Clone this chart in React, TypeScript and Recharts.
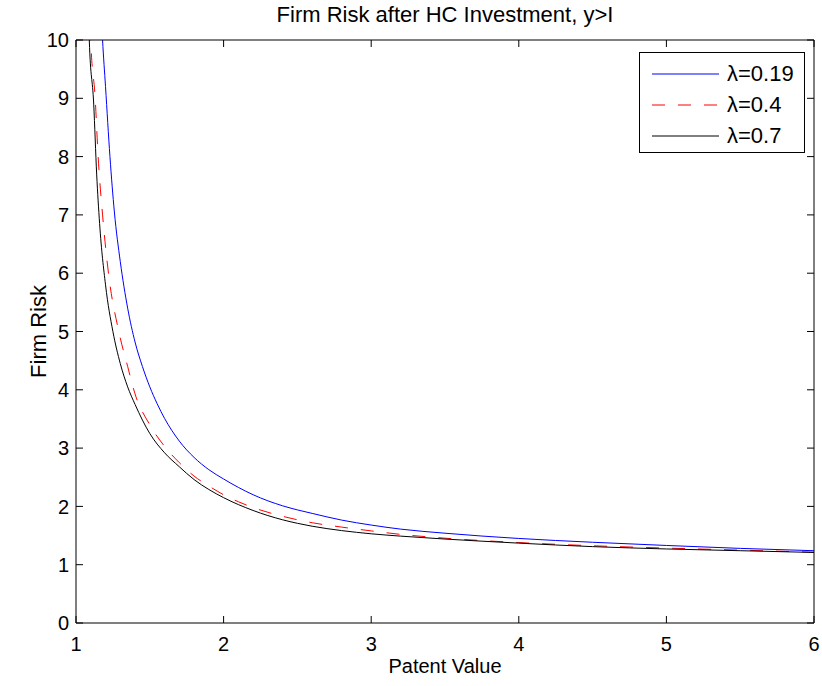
import {
  LineChart,
  Line,
  XAxis,
  YAxis,
  Legend,
} from "recharts";

// patent value (x) and firm risk (y)
const blueX = [1.15, 1.18, 1.2, 1.23, 1.26, 1.3, 1.35, 1.4, 1.45, 1.5, 1.55, 1.6, 1.7, 1.8, 1.9, 2.0, 2.2, 2.4, 2.5, 2.6, 2.8, 3.0, 3.2, 3.5, 4.0, 4.5, 5.0, 5.5, 6.0];
const blueY = [11.8, 10, 9.2, 8.0, 7.05, 6.2, 5.4, 4.82, 4.4, 4.05, 3.76, 3.51, 3.12, 2.84, 2.63, 2.47, 2.2, 2.01, 1.94, 1.88, 1.765, 1.68, 1.61, 1.54, 1.45, 1.385, 1.33, 1.28, 1.24];

const redX = [1.08, 1.1, 1.13, 1.15, 1.18, 1.22, 1.29, 1.35, 1.4, 1.5, 1.6, 1.7, 1.8, 1.9, 2.0, 2.1, 2.2, 2.4, 2.6, 2.8, 3.0, 3.2, 3.5, 4.0, 4.5, 5.0, 5.5, 6.0];
const redY = [12, 10, 9, 8, 7, 6, 5, 4.4, 3.93, 3.4, 3.03, 2.75, 2.52, 2.35, 2.2, 2.08, 1.98, 1.83, 1.72, 1.645, 1.58, 1.52, 1.455, 1.38, 1.325, 1.285, 1.25, 1.215];

const blackX = [1.07, 1.09, 1.12, 1.14, 1.16, 1.2, 1.25, 1.3, 1.35, 1.4, 1.5, 1.6, 1.7, 1.8, 1.9, 2.0, 2.2, 2.4, 2.5, 2.6, 2.8, 3.0, 3.2, 3.5, 4.0, 4.5, 5.0, 5.5, 6.0];
const blackY = [12, 10, 8.9, 7.7, 6.85, 5.8, 5.0, 4.45, 4.05, 3.75, 3.25, 2.92, 2.68, 2.46, 2.29, 2.15, 1.93, 1.77, 1.71, 1.66, 1.585, 1.53, 1.49, 1.44, 1.37, 1.31, 1.27, 1.24, 1.21];

const xTicks = [1, 2, 3, 4, 5, 6];
const yTicks = [0, 1, 2, 3, 4, 5, 6, 7, 8, 9, 10];

const toPoints = (xs: number[], ys: number[]) =>
  xs.map((x, i) => ({ x, y: ys[i] }));

const series = [
  { name: "λ=0.19", color: "#0000ff", dash: undefined, data: toPoints(blueX, blueY) },
  { name: "λ=0.4", color: "#ff0000", dash: "13 13", data: toPoints(redX, redY) },
  { name: "λ=0.7", color: "#000000", dash: undefined, data: toPoints(blackX, blackY) },
];

const FONT = '"Liberation Sans", Arial, Helvetica, sans-serif';
const tickStyle = { fill: "#000", fontSize: 20, fontFamily: FONT };

// tick labels are drawn by the main axes; the mirrored ones only draw inward tick marks
const NoLabel = () => <g />;

function LegendBox() {
  return (
    <div
      style={{
        boxSizing: "border-box",
        border: "1px solid #000",
        background: "#fff",
        padding: "5px 0 0 12px",
        fontFamily: FONT,
        fontSize: 22,
        width: 166,
        height: 101,
      }}
    >
      {series.map((s) => (
        <div
          key={s.name}
          style={{ display: "flex", alignItems: "center", height: 31 }}
        >
          <svg width={67} height={10} style={{ marginRight: 8 }}>
            <line
              x1={0}
              y1={5}
              x2={67}
              y2={5}
              stroke={s.color}
              strokeWidth={1}
              strokeDasharray={s.dash}
            />
          </svg>
          <span>{s.name}</span>
        </div>
      ))}
    </div>
  );
}

function YLabel(props: any) {
  const vb = props.viewBox;
  const cx = vb.x + 2;
  const cy = vb.y + vb.height / 2;
  return (
    <text
      x={cx}
      y={cy}
      transform={`rotate(-90 ${cx} ${cy})`}
      textAnchor="middle"
      dominantBaseline="central"
      fontSize={22}
      fontFamily={FONT}
      fill="#000"
    >
      Firm Risk
    </text>
  );
}

const innerTickAxis = {
  type: "number" as const,
  mirror: true,
  allowDataOverflow: true,
  tick: NoLabel,
  tickSize: 7,
  tickLine: { stroke: "#000" },
};

export default function App() {
  return (
    <div
      style={{
        position: "absolute",
        left: 0,
        top: 0,
        width: 822,
        height: 686,
        background: "#fff",
      }}
    >
      <div
        style={{
          position: "absolute",
          left: 76,
          width: 738,
          top: 2,
          textAlign: "center",
          fontFamily: FONT,
          fontSize: 22,
        }}
      >
        Firm Risk after HC Investment, y&gt;I
      </div>

      <LineChart
        width={822}
        height={686}
        margin={{ top: 40, right: 8, bottom: 13, left: 36 }}
      >
        <XAxis
          dataKey="x"
          type="number"
          domain={[1, 6]}
          ticks={xTicks}
          allowDataOverflow
          tickLine={false}
          tickSize={0}
          tickMargin={14}
          height={50}
          axisLine={{ stroke: "#000" }}
          tick={tickStyle}
          label={{
            value: "Patent Value",
            position: "insideBottom",
            offset: 0,
            fill: "#000",
            fontSize: 20,
            fontFamily: FONT,
          }}
        />
        <XAxis
          {...innerTickAxis}
          xAxisId="bottomTicks"
          dataKey="x"
          orientation="bottom"
          domain={[1, 6]}
          ticks={xTicks}
          axisLine={false}
        />
        <XAxis
          {...innerTickAxis}
          xAxisId="top"
          dataKey="x"
          orientation="top"
          domain={[1, 6]}
          ticks={xTicks}
          axisLine={{ stroke: "#000" }}
        />
        <YAxis
          type="number"
          domain={[0, 10]}
          ticks={yTicks}
          allowDataOverflow
          width={40}
          tickLine={false}
          tickSize={0}
          tickMargin={7}
          axisLine={{ stroke: "#000" }}
          tick={tickStyle}
          label={YLabel}
        />
        <YAxis
          {...innerTickAxis}
          yAxisId="leftTicks"
          orientation="left"
          domain={[0, 10]}
          ticks={yTicks}
          axisLine={false}
        />
        <YAxis
          {...innerTickAxis}
          yAxisId="right"
          orientation="right"
          domain={[0, 10]}
          ticks={yTicks}
          axisLine={{ stroke: "#000" }}
        />

        <Legend
          layout="vertical"
          align="center"
          verticalAlign="middle"
          wrapperStyle={{ left: 639, top: 52, width: 166 }}
          content={() => <LegendBox />}
        />

        {series.map((s) => (
          <Line
            key={s.name}
            name={s.name}
            data={s.data}
            dataKey="y"
            type="monotone"
            stroke={s.color}
            strokeWidth={1}
            strokeDasharray={s.dash}
            dot={false}
            activeDot={false}
            isAnimationActive={false}
          />
        ))}
      </LineChart>
    </div>
  );
}
